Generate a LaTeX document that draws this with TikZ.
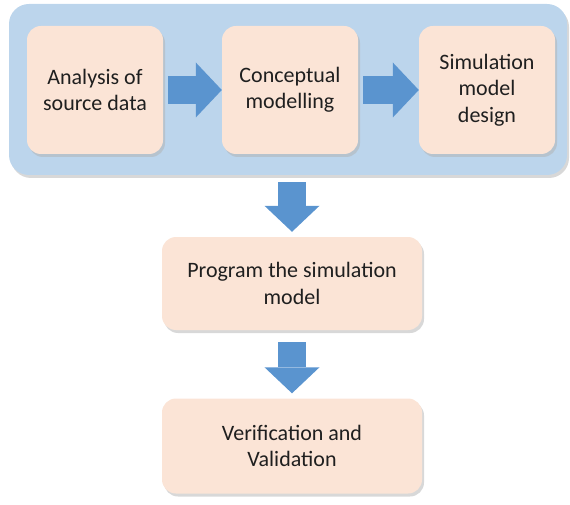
\documentclass[tikz,border=0pt]{standalone}
\usepackage{fontspec}
\setmainfont{Carlito}
\usetikzlibrary{arrows.meta,shadows}
\definecolor{phaseblue}{HTML}{BCD5EC}
\definecolor{stagepeach}{HTML}{FBE4D6}
\definecolor{flowblue}{HTML}{5A94CF}

\begin{document}
\begin{tikzpicture}[x=1pt,y=-1pt,
    stage/.style={rounded corners=14pt,fill=stagepeach,align=center,inner sep=0pt,
      text=black!88,font=\fontsize{22}{26.5}\selectfont,
      drop shadow={shadow xshift=2pt,shadow yshift=-3pt,fill=black!30}},
    flow/.style={flowblue,line width=28pt,
      -{Triangle[width=55pt,length=26pt,line width=0pt]}}]
   \useasboundingbox (0,0) rectangle (570,505);
   % the upper phase
   \node[rounded corners=20pt,fill=phaseblue,minimum width=558pt,minimum height=171pt,
     drop shadow={shadow xshift=2pt,shadow yshift=-3pt,fill=black!30}] (phase) at (288,89.5) {};
   \node[stage,minimum width=136pt,minimum height=128pt] (analysis) at (95,90) {Analysis of\\source data};
   \node[stage,minimum width=136pt,minimum height=128pt] (concept) at (290,90) {Conceptual\\modelling};
   \node[stage,minimum width=136pt,minimum height=128pt] (design) at (487,90) {Simulation\\model\\design};
   \draw[flow,shorten <=5pt] (analysis) -- (concept);
   \draw[flow,shorten <=5pt] (concept) -- (design);
   % the lower steps
   \node[stage,minimum width=260pt,minimum height=93pt] (program) at (292,283.5) {Program the simulation\\model};
   \node[stage,minimum width=260pt,minimum height=95pt] (verify) at (292,446) {Verification and\\Validation};
   \draw[flow,shorten <=7pt,shorten >=5pt] (phase.south -| program.north) -- (program);
   \draw[flow,shorten <=12pt,shorten >=5pt] (program) -- (verify);
\end{tikzpicture}
\end{document}
